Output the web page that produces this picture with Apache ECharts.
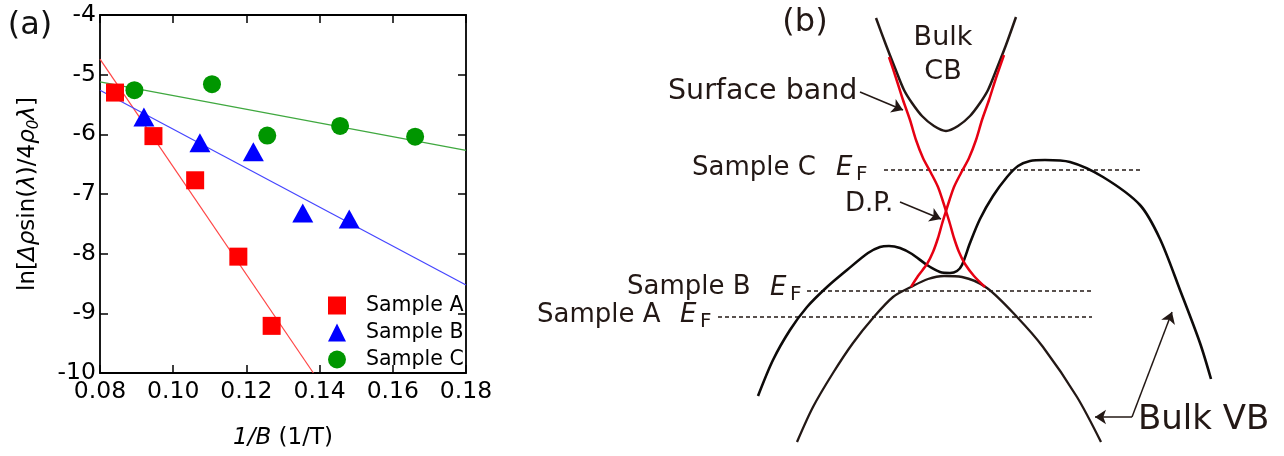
<!DOCTYPE html>
<html>
<head>
<meta charset="utf-8">
<script src="https://cdn.jsdelivr.net/npm/echarts@6/dist/echarts.min.js"></script>
<style>
html,body{margin:0;padding:0;background:#fff;}
#c{width:1284px;height:456px;}
</style>
</head>
<body>
<div id="c"></div>
<script>
// ---------- Panel (a) data ----------
const xTicks = [0.08, 0.10, 0.12, 0.14, 0.16, 0.18];
const yTicks = [-10, -9, -8, -7, -6, -5, -4];
const seriesNames = ['Sample A', 'Sample B', 'Sample C'];
const xA = [0.0841, 0.0946, 0.1060, 0.1178, 0.1269];
const yA = [-5.30, -6.03, -6.77, -8.05, -9.21];
const xB = [0.0920, 0.1073, 0.1219, 0.1354, 0.1481];
const yB = [-5.71, -6.14, -6.29, -7.32, -7.42];
const xC = [0.0894, 0.1106, 0.1257, 0.1456, 0.1661];
const yC = [-5.26, -5.16, -6.02, -5.86, -6.04];
const fitA = [[0.08, -4.74], [0.1383, -10]];
const fitB = [[0.08, -5.26], [0.18, -8.525]];
const fitC = [[0.08, -5.12], [0.18, -6.27]];

// ---------- Panel (b) schematic data (k, E), D.P. at (0,0) ----------
const bulkCB = [[-0.70,1.93],[-0.60,1.66],[-0.51,1.43],[-0.42,1.21],[-0.34,1.08],[-0.24,0.95],[-0.12,0.85],[0.00,0.80],[0.12,0.85],[0.24,0.95],[0.34,1.08],[0.42,1.21],[0.51,1.43],[0.60,1.66],[0.70,1.94]];
const surf1 = [[-0.57,1.54],[-0.50,1.33],[-0.43,1.11],[-0.36,0.91],[-0.30,0.71],[-0.23,0.53],[-0.15,0.38],[-0.08,0.24],[-0.035,0.11],[0,0],[0.04,-0.13],[0.08,-0.27],[0.13,-0.41],[0.19,-0.53],[0.28,-0.65],[0.39,-0.76]];
const surf2 = [[0.58,1.56],[0.50,1.33],[0.43,1.11],[0.36,0.91],[0.30,0.71],[0.23,0.53],[0.15,0.38],[0.08,0.24],[0.035,0.11],[0,0],[-0.04,-0.13],[-0.08,-0.27],[-0.13,-0.41],[-0.19,-0.53],[-0.28,-0.65],[-0.35,-0.76]];
const bulkVB1 = [[-1.88,-1.85],[-1.73,-1.49],[-1.56,-1.19],[-1.39,-0.96],[-1.19,-0.76],[-0.99,-0.59],[-0.78,-0.42],[-0.66,-0.36],[-0.57,-0.35],[-0.46,-0.37],[-0.34,-0.43],[-0.19,-0.54],[-0.06,-0.61],[0.04,-0.62],[0.11,-0.60],[0.16,-0.54],[0.24,-0.32],[0.34,-0.08],[0.47,0.15],[0.61,0.34],[0.72,0.45],[0.84,0.50],[0.99,0.51],[1.24,0.49],[1.57,0.34],[1.94,0.06],[2.14,-0.28],[2.34,-0.79],[2.54,-1.32],[2.65,-1.68]];
const bulkVB2 = [[-1.49,-2.31],[-1.33,-1.96],[-1.13,-1.62],[-0.93,-1.32],[-0.73,-1.07],[-0.53,-0.86],[-0.35,-0.76],[-0.18,-0.68],[-0.02,-0.65],[0.16,-0.66],[0.41,-0.77],[0.71,-1.06],[0.97,-1.36],[1.31,-1.86],[1.55,-2.31]];
const efC = [[-0.62,0.41],[1.94,0.41]];
const efB = [[-1.39,-0.80],[1.46,-0.80]];
const efA = [[-2.28,-1.06],[1.46,-1.06]];
const arrows = [
  [[-0.86,1.19],[-0.43,1.01]],
  [[-0.46,0.09],[-0.05,-0.08]],
  [[1.86,-2.06],[1.49,-2.06]],
  [[1.86,-2.06],[2.26,-1.01]]
];

const FF = 'DejaVu Sans';
const INK = '#231815';
const zip = (xs, ys) => xs.map((x, i) => [x, ys[i]]);

function txt(x, y, text, size, extra) {
  const s = Object.assign({
    text: text, fontSize: size, fontFamily: FF, fill: INK,
    align: 'left', verticalAlign: 'middle', textAlign: 'left', textVerticalAlign: 'middle'
  }, extra || {});
  return { type: 'text', x: x, y: y, silent: true, style: s };
}

const axisLineStyle = { color: '#000', width: 1.8 };
const tickStyle = { show: true, inside: true, length: 8, lineStyle: { color: '#000', width: 1.5 } };

const chart = echarts.init(document.getElementById('c'), null, { renderer: 'canvas' });
const option = {
  animation: false,
  backgroundColor: '#fff',
  grid: [
    { left: 100, top: 15, width: 366, height: 358 },
    { left: 520, top: 0, width: 764, height: 456 }
  ],
  xAxis: [
    { type: 'value', gridIndex: 0, min: xTicks[0], max: xTicks[xTicks.length - 1], interval: 0.02,
      position: 'bottom',
      axisLine: { show: true, onZero: false, lineStyle: axisLineStyle },
      axisTick: tickStyle, splitLine: { show: false },
      axisLabel: { margin: 7, fontSize: 23.5, fontFamily: FF, color: '#000', formatter: v => v.toFixed(2) },
      name: '{i|1/B} (1/T)', nameLocation: 'middle', nameGap: 54,
      nameTextStyle: { fontSize: 23, fontFamily: FF, color: '#000',
        rich: { i: { fontStyle: 'italic', fontSize: 23, fontFamily: FF, color: '#000' } } } },
    { type: 'value', gridIndex: 0, min: xTicks[0], max: xTicks[xTicks.length - 1], interval: 0.02,
      position: 'top',
      axisLine: { show: true, onZero: false, lineStyle: axisLineStyle },
      axisTick: tickStyle, axisLabel: { show: false }, splitLine: { show: false } },
    { type: 'value', gridIndex: 1, min: -4.26, max: 3.38, show: false }
  ],
  yAxis: [
    { type: 'value', gridIndex: 0, min: yTicks[0], max: yTicks[yTicks.length - 1], interval: 1,
      position: 'left',
      axisLine: { show: true, onZero: false, lineStyle: axisLineStyle },
      axisTick: tickStyle, splitLine: { show: false },
      axisLabel: { margin: 4, fontSize: 23.5, fontFamily: FF, color: '#000' },
      name: '{n|ln[}{i|Δρ}{n|sin(}{i|λ}{n|)/4}{i|ρ}{s|0}{i|λ}{n|]}',
      nameLocation: 'middle', nameRotate: 90, nameGap: 58,
      nameTextStyle: { fontSize: 23, fontFamily: FF, color: '#000',
        rich: {
          n: { fontSize: 23, fontFamily: FF, color: '#000', lineHeight: 28 },
          i: { fontSize: 23, fontFamily: FF, color: '#000', fontStyle: 'italic', lineHeight: 28 },
          s: { fontSize: 15, fontFamily: FF, color: '#000', fontStyle: 'italic', lineHeight: 15, verticalAlign: 'bottom' }
        } } },
    { type: 'value', gridIndex: 0, min: yTicks[0], max: yTicks[yTicks.length - 1], interval: 1,
      position: 'right',
      axisLine: { show: true, onZero: false, lineStyle: axisLineStyle },
      axisTick: tickStyle, axisLabel: { show: false }, splitLine: { show: false } },
    { type: 'value', gridIndex: 1, min: -2.45, max: 2.11, show: false }
  ],
  legend: {
    data: seriesNames, orient: 'vertical', left: 328, top: 295, padding: 0,
    itemWidth: 18, itemHeight: 18, itemGap: 6,
    formatter: name => '{g| }{t|' + name + '}',
    textStyle: { fontSize: 20.5, fontFamily: FF, color: '#000', lineHeight: 20,
      rich: { g: { width: 15, fontSize: 20.5, lineHeight: 20 }, t: { fontSize: 20.5, fontFamily: FF, color: '#000', lineHeight: 20 } } },
    selectedMode: false
  },
  series: [
    { type: 'line', xAxisIndex: 0, yAxisIndex: 0, data: fitA, symbol: 'none', z: 1, silent: true,
      lineStyle: { color: '#ff4545', width: 1.2 } },
    { type: 'line', xAxisIndex: 0, yAxisIndex: 0, data: fitB, symbol: 'none', z: 1, silent: true,
      lineStyle: { color: '#4545ff', width: 1.2 } },
    { type: 'line', xAxisIndex: 0, yAxisIndex: 0, data: fitC, symbol: 'none', z: 1, silent: true,
      lineStyle: { color: '#3fa83f', width: 1.2 } },
    { name: seriesNames[0], type: 'scatter', xAxisIndex: 0, yAxisIndex: 0, data: zip(xA, yA),
      symbol: 'rect', symbolSize: 18, z: 3, itemStyle: { color: '#ff0000', opacity: 1 } },
    { name: seriesNames[1], type: 'scatter', xAxisIndex: 0, yAxisIndex: 0, data: zip(xB, yB),
      symbol: 'triangle', symbolSize: [21, 19], z: 3, itemStyle: { color: '#0000ff', opacity: 1 } },
    { name: seriesNames[2], type: 'scatter', xAxisIndex: 0, yAxisIndex: 0, data: zip(xC, yC),
      symbol: 'circle', symbolSize: 18, z: 3, itemStyle: { color: '#009600', opacity: 1 } },

    // panel (b)
    { type: 'line', xAxisIndex: 2, yAxisIndex: 2, data: efC, symbol: 'none', silent: true,
      lineStyle: { color: INK, width: 1.6, type: [4, 3] } },
    { type: 'line', xAxisIndex: 2, yAxisIndex: 2, data: efB, symbol: 'none', silent: true,
      lineStyle: { color: INK, width: 1.6, type: [4, 3] } },
    { type: 'line', xAxisIndex: 2, yAxisIndex: 2, data: efA, symbol: 'none', silent: true,
      lineStyle: { color: INK, width: 1.6, type: [4, 3] } },
    { type: 'line', xAxisIndex: 2, yAxisIndex: 2, data: bulkCB, symbol: 'none', smooth: 0.3, silent: true,
      lineStyle: { color: INK, width: 2.5 } },
    { type: 'line', xAxisIndex: 2, yAxisIndex: 2, data: bulkVB1, symbol: 'none', smooth: 0.3, silent: true,
      lineStyle: { color: '#0d0a09', width: 2.6 } },
    { type: 'line', xAxisIndex: 2, yAxisIndex: 2, data: bulkVB2, symbol: 'none', smooth: 0.3, silent: true,
      lineStyle: { color: INK, width: 2.3 } },
    { type: 'line', xAxisIndex: 2, yAxisIndex: 2, data: surf1, symbol: 'none', smooth: 0.3, silent: true, z: 3,
      lineStyle: { color: '#e60012', width: 2.5 } },
    { type: 'line', xAxisIndex: 2, yAxisIndex: 2, data: surf2, symbol: 'none', smooth: 0.3, silent: true, z: 3,
      lineStyle: { color: '#e60012', width: 2.5 } },
    { type: 'lines', coordinateSystem: 'cartesian2d', xAxisIndex: 2, yAxisIndex: 2, silent: true, z: 4,
      symbol: ['none', 'arrow'], symbolSize: 11,
      lineStyle: { color: INK, width: 1.5, opacity: 1, curveness: 0 },
      data: arrows.map(a => ({ coords: a })) }
  ],
  graphic: [
    txt(30, 26, '(a)', 32, { align: 'center', textAlign: 'center', fill: '#111' }),
    txt(805, 23, '(b)', 32, { align: 'center', textAlign: 'center' }),
    txt(668, 92, 'Surface band', 28.5),
    txt(943, 38, 'Bulk', 27, { align: 'center', textAlign: 'center' }),
    txt(943, 72, 'CB', 27, { align: 'center', textAlign: 'center' }),
    txt(692, 168, 'Sample C', 26),
    txt(836, 168.5, 'E', 26, { fontStyle: 'italic' }),
    txt(856, 175, 'F', 20),
    txt(845, 204, 'D.P.', 26),
    txt(627, 287, 'Sample B', 26),
    txt(770, 288.5, 'E', 26, { fontStyle: 'italic' }),
    txt(790, 295, 'F', 20),
    txt(537, 315, 'Sample A', 26),
    txt(680, 315.5, 'E', 26, { fontStyle: 'italic' }),
    txt(700, 322, 'F', 20),
    txt(1138, 420, 'Bulk VB', 34)
  ]
};
chart.setOption(option);
</script>
</body>
</html>
